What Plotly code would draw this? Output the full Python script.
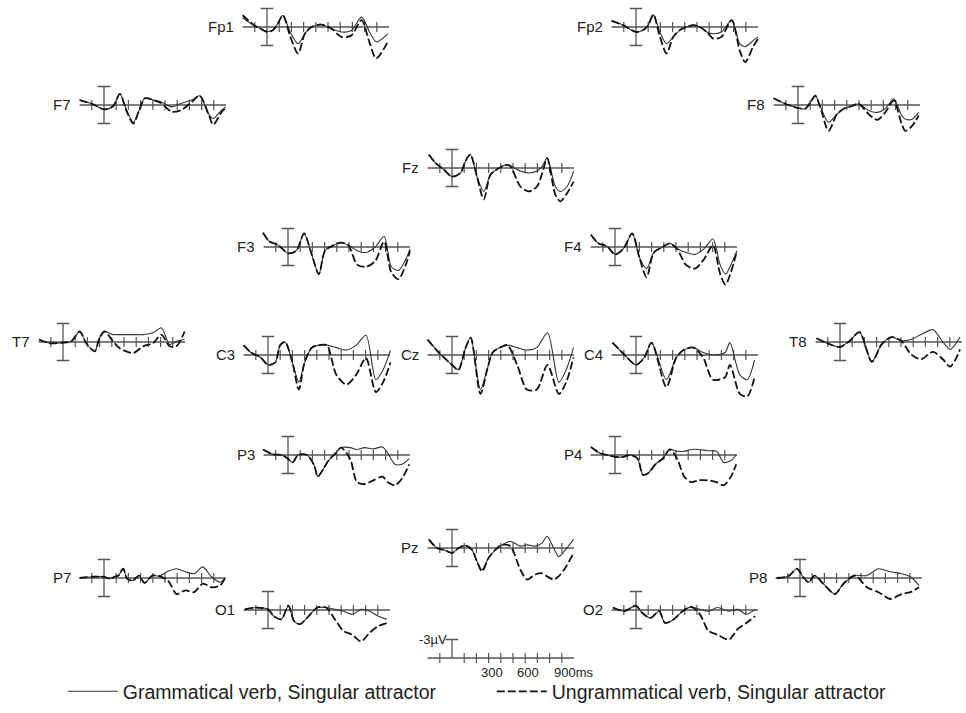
import plotly.graph_objects as go

W, H = 966, 713
PX_MS = 0.122   # pixels per millisecond
PX_UV = 6.17    # pixels per microvolt

# ---------------- data (µV, negative plotted up) ----------------
FP1_T = [-200, -150, -100, -50, 0, 50, 90, 130, 190, 255, 310, 365, 445, 530, 610, 690, 775, 840, 895, 990]
FP1_GRAM = [-1.5, -0.8, -0.2, 0.3, 0.7, 0.5, -0.6, -1.9, 0.8, 2.7, 1.1, 0.0, -0.4, 0.3, 0.8, 0.6, -1.6, 0.8, 2.4, 1.1]
FP1_UNGRAM = [-1.9, -1.0, -0.2, 0.3, 0.8, 0.5, -0.6, -1.9, 1.5, 4.3, 1.1, 0.0, -0.4, 0.3, 1.6, 1.4, -1.1, 2.5, 5.1, 2.4]

FP2_T = [-200, -105, 0, 60, 100, 142, 195, 250, 305, 360, 415, 470, 525, 580, 635, 700, 785, 850, 895, 960, 1000]
FP2_GRAM = [-1.0, -0.3, 0.8, 0.5, -0.3, -2.0, 0.8, 2.7, 1.6, 0.5, 0.0, -0.3, 0.0, 0.8, 1.1, 0.8, -1.1, 2.7, 3.2, 2.2, 1.6]
FP2_UNGRAM = [-1.0, -0.3, 0.8, 0.5, -0.3, -2.0, 1.5, 4.3, 1.6, 0.5, 0.0, -0.3, 0.0, 0.8, 1.9, 1.6, -1.1, 3.8, 5.7, 3.2, 1.9]

F7_T = [-200, -100, 0, 75, 130, 185, 240, 295, 335, 405, 470, 555, 635, 720, 785, 855, 895, 965, 1000]
F7_GRAM = [-0.8, -0.2, 0.7, 0.2, -1.8, 0.8, 2.8, 0.5, -1.1, -0.8, -0.5, 0.3, -0.3, -0.8, -1.5, 1.4, 2.2, 0.8, 0.3]
F7_UNGRAM = [-0.8, -0.2, 0.7, 0.2, -1.8, 1.0, 3.0, 0.5, -1.1, -0.8, -0.3, 1.1, 0.8, -0.5, -1.5, 1.4, 3.2, 1.1, 0.5]

F8_T = [-200, -105, 0, 60, 100, 142, 195, 250, 320, 375, 440, 497, 580, 650, 715, 785, 850, 880, 935, 990]
F8_GRAM = [-1.1, -0.2, 0.5, 0.6, -0.4, -1.5, 0.8, 2.8, 1.5, 0.6, 0.2, -0.2, 0.9, 1.2, 0.6, -1.0, 1.7, 2.3, 2.3, 1.2]
F8_UNGRAM = [-1.1, -0.2, 0.5, 0.6, -0.4, -1.5, 1.2, 4.2, 1.5, 0.6, 0.2, -0.2, 1.5, 2.4, 1.2, -0.7, 3.1, 4.2, 3.4, 1.7]

FZ_T = [-190, -135, -70, 0, 70, 110, 150, 205, 260, 315, 370, 437, 478, 560, 630, 697, 740, 780, 847, 888, 943, 997]
FZ_GRAM = [-2.2, -0.8, 0.2, 1.4, 0.8, -1.1, -2.2, 1.4, 3.8, 1.1, 0.2, -0.5, -0.4, 0.5, 0.8, 0.5, -0.3, -1.6, 3.0, 3.8, 3.0, 0.5]
FZ_UNGRAM = [-2.2, -0.8, 0.2, 1.4, 0.8, -1.1, -2.2, 1.4, 5.1, 1.1, 0.2, -0.5, -0.3, 3.0, 3.8, 3.0, 0.8, -1.6, 4.3, 5.4, 4.1, 2.2]

F3_T = [-205, -153, -80, 0, 68, 132, 185, 253, 303, 376, 435, 494, 568, 640, 715, 788, 847, 906, 965, 1000]
F3_GRAM = [-2.3, -0.9, -0.3, 1.0, 0.6, -2.2, 0.6, 4.4, 0.6, -0.3, -0.7, -0.3, 0.6, 0.9, 0.0, -1.7, 3.2, 3.8, 2.0, 0.3]
F3_UNGRAM = [-2.3, -0.9, -0.3, 1.0, 0.6, -2.2, 0.6, 4.4, 0.6, -0.3, -0.7, -0.3, 2.9, 3.2, 2.3, -0.9, 4.1, 5.2, 2.9, 0.6]

F4_T = [-197, -138, -65, 0, 68, 141, 200, 259, 318, 391, 450, 509, 582, 656, 729, 803, 862, 906, 950, 1000]
F4_GRAM = [-2.0, -0.6, -0.1, 1.2, 0.3, -2.2, 1.7, 3.5, 0.9, 0.0, -0.6, 0.3, 0.9, 1.2, 0.3, -1.3, 2.9, 4.4, 2.9, 0.6]
F4_UNGRAM = [-2.0, -0.6, -0.1, 1.2, 0.3, -2.2, 1.7, 4.9, 0.9, 0.0, -0.6, 0.3, 2.9, 3.5, 2.0, -0.3, 4.4, 6.1, 4.1, 0.6]

T7_T = [-197, -109, 0, 68, 137, 191, 260, 300, 342, 410, 465, 574, 656, 738, 806, 874, 929, 997]
T7_GRAM = [-0.4, 0.2, 0.1, -0.1, -1.7, 0.2, 1.5, -0.7, -1.7, -1.2, -1.2, -1.2, -1.2, -1.5, -2.3, 0.4, -0.1, -0.4]
T7_UNGRAM = [-0.4, 0.2, 0.1, -0.1, -1.7, 0.2, 1.5, -0.7, -1.7, -0.1, 1.0, 1.8, 0.7, 0.2, -1.2, 0.7, 0.7, -1.7]

C3_T = [-200, -140, -60, 0, 60, 100, 140, 200, 253, 300, 360, 422, 482, 560, 643, 723, 803, 884, 944, 1004]
C3_GRAM = [-1.6, -0.4, 0.4, 1.6, 1.2, -1.6, -2.1, 1.2, 4.4, 1.2, -1.2, -1.6, -1.6, -1.2, -0.8, -1.6, -3.2, 4.0, 2.4, -0.8]
C3_UNGRAM = [-1.6, -0.4, 0.4, 1.6, 1.2, -1.6, -2.1, 1.2, 5.6, 1.2, -1.2, -1.6, -1.6, 3.2, 4.8, 3.2, 0.5, 6.0, 4.4, 1.2]

CZ_T = [-200, -108, 0, 52, 112, 153, 233, 293, 333, 393, 454, 534, 614, 695, 783, 876, 936, 996]
CZ_GRAM = [-2.5, -0.4, 1.6, 2.4, -1.2, -2.8, 5.6, 2.0, -0.4, -1.2, -1.6, -1.2, -0.8, -1.2, -3.6, 4.4, 2.4, -1.2]
CZ_UNGRAM = [-2.5, -0.4, 1.6, 2.4, -1.2, -2.8, 6.3, 2.0, -0.4, -1.2, -1.6, 1.6, 5.6, 5.6, 1.6, 6.3, 4.4, 0.4]

C4_T = [-193, -92, 0, 68, 128, 249, 330, 390, 470, 550, 630, 730, 770, 851, 912, 972]
C4_GRAM = [-2.0, 0.0, 1.6, 0.4, -2.0, 4.0, 0.4, -0.8, -1.2, -0.4, 0.0, -0.4, -2.0, 3.2, 4.0, 0.8]
C4_UNGRAM = [-2.0, 0.0, 1.6, 0.4, -2.0, 5.2, 0.4, -0.8, -1.2, 0.4, 4.0, 3.6, 1.6, 6.3, 6.7, 3.6]

T8_T = [-193, -80, 0, 80, 160, 261, 341, 422, 502, 582, 663, 763, 843, 904, 984]
T8_GRAM = [-0.6, 0.4, 0.8, -0.2, -1.6, 3.2, 0.4, -0.8, -0.2, -0.4, -1.2, -2.0, 0.0, 1.2, -0.8]
T8_UNGRAM = [-0.6, 0.4, 0.8, -0.2, -1.6, 3.2, 0.4, -0.8, -0.2, 2.0, 2.8, 1.6, 2.8, 4.0, 1.2]

P3_T = [-205, -123, -50, 0, 38, 82, 156, 215, 244, 288, 332, 391, 435, 509, 565, 626, 700, 774, 818, 876, 935, 994]
P3_GRAM = [-0.9, -0.1, 0.0, 0.6, 1.2, 0.0, 0.0, 1.7, 3.5, 2.3, 0.9, -0.3, -1.2, -1.2, -0.9, -1.2, -1.0, -1.3, -0.3, 1.5, 1.5, 0.6]
P3_UNGRAM = [-0.9, -0.1, 0.0, 0.6, 1.2, 0.0, 0.0, 1.7, 3.5, 2.3, 0.9, -0.3, -1.2, 0.6, 4.4, 4.7, 4.1, 3.5, 4.4, 4.9, 3.8, 1.5]

P4_T = [-197, -124, -65, 0, 68, 126, 185, 229, 274, 332, 391, 450, 509, 568, 626, 685, 759, 832, 891, 950, 994]
P4_GRAM = [-1.3, -0.3, 0.0, 0.3, 0.3, 0.0, 0.6, 3.2, 2.9, 1.5, 0.6, -0.9, -0.6, -0.6, -0.9, -0.9, -0.7, -0.6, 1.2, 0.9, 0.0]
P4_UNGRAM = [-1.3, -0.3, 0.0, 0.3, 0.3, 0.0, 0.6, 3.2, 2.9, 1.5, 0.6, -0.9, 0.6, 3.5, 4.4, 4.1, 4.1, 4.4, 4.9, 3.5, 1.5]

PZ_T = [-190, -123, -68, 0, 55, 110, 164, 205, 246, 300, 355, 410, 478, 560, 615, 683, 738, 779, 833, 874, 929, 997]
PZ_GRAM = [-1.4, 0.0, 0.3, 0.8, 0.0, -0.4, 0.3, 2.2, 3.5, 1.6, 0.3, -0.5, -1.1, -0.3, -0.5, -0.3, -0.8, -1.9, 0.0, 1.4, 0.3, -1.4]
PZ_UNGRAM = [-1.4, 0.0, 0.3, 0.8, 0.0, -0.4, 0.3, 2.2, 3.8, 1.6, 0.3, -0.5, -0.3, 3.5, 5.1, 4.3, 4.1, 4.6, 5.1, 4.6, 3.2, 0.8]

P7_T = [-200, -95, 0, 48, 86, 119, 157, 190, 238, 286, 333, 395, 452, 524, 595, 667, 738, 810, 881, 952, 990]
P7_GRAM = [0.0, -0.2, -0.2, 0.1, -0.2, -0.4, -1.5, 0.1, 0.4, -0.4, 0.8, -0.4, -0.3, -1.1, -1.5, -1.0, -0.7, -1.8, -0.2, 0.7, 0.1]
P7_UNGRAM = [0.0, -0.2, -0.2, 0.1, -0.2, -0.4, -1.5, 0.1, 0.4, -0.4, 0.8, -0.4, -0.3, 0.4, 2.6, 2.0, 2.3, 0.9, 1.5, 1.2, 0.1]

P8_T = [-190, -95, -24, 24, 71, 119, 190, 286, 357, 452, 548, 643, 738, 833, 905, 976]
P8_GRAM = [0.0, -0.3, -1.5, -0.2, 0.7, -0.4, 0.9, 2.6, 0.9, -0.4, -0.4, -1.5, -1.0, -0.7, -0.2, 1.2]
P8_UNGRAM = [0.0, -0.3, -1.5, -0.2, 0.7, -0.4, 0.9, 2.6, 0.9, -0.4, 1.5, 2.3, 3.4, 2.6, 2.3, 1.5]

O1_T = [-190, -95, 0, 48, 110, 167, 214, 262, 333, 405, 476, 548, 619, 690, 762, 833, 905, 976]
O1_GRAM = [-0.1, -0.4, -0.1, 1.0, 1.5, -0.7, 1.8, 2.3, 1.0, -0.4, -0.4, -0.1, 0.2, 0.7, -0.1, 0.2, 1.0, 1.5]
O1_UNGRAM = [-0.1, -0.4, -0.1, 1.0, 1.5, -0.7, 1.8, 2.3, 1.0, -0.4, -0.4, 1.5, 3.4, 4.0, 5.1, 3.7, 2.6, 2.1]

O2_T = [-190, -95, 0, 48, 119, 190, 238, 310, 381, 452, 524, 595, 667, 762, 833, 905, 976]
O2_GRAM = [-0.4, 0.2, -0.7, 0.4, 1.3, 0.2, 2.1, 1.5, 0.2, -0.5, -0.1, 0.2, -0.4, 0.2, -0.1, 0.7, -0.1]
O2_UNGRAM = [-0.4, 0.2, -0.7, 0.4, 1.3, 0.2, 2.1, 1.5, 0.2, -0.5, 0.7, 3.4, 4.0, 4.8, 3.1, 2.1, 1.0]

AXIS_MS = [-200, 1000]
TICKS_MS = [-100, 100, 200, 300, 400, 500, 600, 700, 800, 900]
BAR_UV = [-3, 3]
SCALE_BAR_UV = [0, -3]
SCALE_LABEL_MS = [300, 600, 900]
SCALE_LABELS = ["300", "600", "900ms"]
LEGEND_NAMES = ["Grammatical verb, Singular attractor", "Ungrammatical verb, Singular attractor"]

DATA = {
    "Fp1": (FP1_T, FP1_GRAM, FP1_UNGRAM), "Fp2": (FP2_T, FP2_GRAM, FP2_UNGRAM),
    "F7": (F7_T, F7_GRAM, F7_UNGRAM), "F8": (F8_T, F8_GRAM, F8_UNGRAM),
    "Fz": (FZ_T, FZ_GRAM, FZ_UNGRAM), "F3": (F3_T, F3_GRAM, F3_UNGRAM),
    "F4": (F4_T, F4_GRAM, F4_UNGRAM), "T7": (T7_T, T7_GRAM, T7_UNGRAM),
    "C3": (C3_T, C3_GRAM, C3_UNGRAM), "Cz": (CZ_T, CZ_GRAM, CZ_UNGRAM),
    "C4": (C4_T, C4_GRAM, C4_UNGRAM), "T8": (T8_T, T8_GRAM, T8_UNGRAM),
    "P3": (P3_T, P3_GRAM, P3_UNGRAM), "P4": (P4_T, P4_GRAM, P4_UNGRAM),
    "Pz": (PZ_T, PZ_GRAM, PZ_UNGRAM), "P7": (P7_T, P7_GRAM, P7_UNGRAM),
    "P8": (P8_T, P8_GRAM, P8_UNGRAM), "O1": (O1_T, O1_GRAM, O1_UNGRAM),
    "O2": (O2_T, O2_GRAM, O2_UNGRAM),
}

# ---------------- layout: panel anchor (0 ms x, baseline y) in pixels ----------------
POS = {
    "Fp1": (267, 27), "Fp2": (636, 27),
    "F7": (104, 105), "F8": (798, 105),
    "Fz": (452, 168),
    "F3": (288, 247), "F4": (615, 247),
    "T7": (63, 342), "C3": (268, 355), "Cz": (452, 355), "C4": (636, 355), "T8": (840, 342),
    "P3": (288, 455), "P4": (615, 455),
    "Pz": (452, 548),
    "P7": (104, 578), "P8": (800, 578),
    "O1": (268, 610), "O2": (636, 610),
    "_scale": (452, 658),
}

FONT = "Liberation Sans, Arial, sans-serif"
AX_COL = "#555555"
X_RANGE = [-230, 1020]
Y_RANGE = [8.0, -4.3]   # reversed: negative up

fig = go.Figure()
layout_axes = {}
annotations = []


def add_axes(i, bx, by):
    x0 = max(0.0, (bx + X_RANGE[0] * PX_MS) / W)
    x1 = min(1.0, (bx + X_RANGE[1] * PX_MS) / W)
    ytop = by + Y_RANGE[1] * PX_UV
    ybot = by + Y_RANGE[0] * PX_UV
    sfx = "" if i == 1 else str(i)
    layout_axes["xaxis" + sfx] = dict(domain=[x0, x1], range=X_RANGE, visible=False,
                                      anchor="y" + sfx, fixedrange=True)
    layout_axes["yaxis" + sfx] = dict(domain=[max(0.0, 1 - ybot / H), min(1.0, 1 - ytop / H)],
                                      range=Y_RANGE, visible=False, anchor="x" + sfx, fixedrange=True)
    return "x" + sfx, "y" + sfx


def add_frame(xr, yr, bar_uv, cap_both):
    fig.add_trace(go.Scatter(x=AXIS_MS, y=[0, 0], xaxis=xr, yaxis=yr, mode="lines",
                             line=dict(color=AX_COL, width=1.3), showlegend=False, hoverinfo="skip"))
    fig.add_trace(go.Scatter(x=TICKS_MS, y=[0] * len(TICKS_MS), xaxis=xr, yaxis=yr, mode="markers",
                             marker=dict(symbol="line-ns", size=7, line=dict(color=AX_COL, width=1.2)),
                             showlegend=False, hoverinfo="skip"))
    fig.add_trace(go.Scatter(x=[0, 0], y=bar_uv, xaxis=xr, yaxis=yr, mode="lines",
                             line=dict(color=AX_COL, width=1.3), showlegend=False, hoverinfo="skip"))
    caps = bar_uv if cap_both else [min(bar_uv)]
    fig.add_trace(go.Scatter(x=[0] * len(caps), y=caps, xaxis=xr, yaxis=yr, mode="markers",
                             marker=dict(symbol="line-ew", size=9, line=dict(color=AX_COL, width=1.3)),
                             showlegend=False, hoverinfo="skip"))


for i, name in enumerate(DATA, start=1):
    bx, by = POS[name]
    xr, yr = add_axes(i, bx, by)
    add_frame(xr, yr, BAR_UV, True)
    t, g, u = DATA[name]
    fig.add_trace(go.Scatter(x=t, y=g, xaxis=xr, yaxis=yr, mode="lines", name=LEGEND_NAMES[0],
                             line=dict(color="#333333", width=1.1, shape="spline", smoothing=0.8),
                             showlegend=(i == 1), legendrank=1, hoverinfo="skip"))
    fig.add_trace(go.Scatter(x=t, y=u, xaxis=xr, yaxis=yr, mode="lines", name=LEGEND_NAMES[1],
                             line=dict(color="#111111", width=1.8, dash="8px,3px", shape="spline", smoothing=0.8),
                             showlegend=(i == 1), legendrank=2, hoverinfo="skip"))
    annotations.append(dict(x=AXIS_MS[0], y=0, xref=xr, yref=yr, text=name, showarrow=False,
                            xanchor="right", yanchor="middle", xshift=-7,
                            font=dict(family=FONT, size=15, color="#222222")))

# scale bar panel
n = len(DATA) + 1
bx, by = POS["_scale"]
xr, yr = add_axes(n, bx, by)
add_frame(xr, yr, SCALE_BAR_UV, False)
annotations.append(dict(x=0, y=-3, xref=xr, yref=yr, text="-3µV", showarrow=False,
                        xanchor="right", yanchor="middle", xshift=-3,
                        font=dict(family=FONT, size=13, color="#222222")))
for ms, lab in zip(SCALE_LABEL_MS, SCALE_LABELS):
    annotations.append(dict(x=ms, y=0, xref=xr, yref=yr, text=lab, showarrow=False,
                            xanchor="left", yanchor="top", xshift=-10, yshift=-5,
                            font=dict(family=FONT, size=13, color="#222222")))

fig.update_layout(
    width=W, height=H, autosize=False,
    margin=dict(l=0, r=0, t=0, b=0, pad=0),
    paper_bgcolor="white", plot_bgcolor="white",
    annotations=annotations,
    legend=dict(orientation="h", x=0.065, y=0.03, xanchor="left", yanchor="middle",
                font=dict(family=FONT, size=19.5, color="#222222"),
                entrywidth=364, entrywidthmode="pixels", bgcolor="rgba(0,0,0,0)",
                itemwidth=50),
    **layout_axes,
)

fig.write_html("out.html", config={"displayModeBar": False, "staticPlot": True},
               post_script="document.body.style.margin='0';document.body.style.overflow='hidden';")
